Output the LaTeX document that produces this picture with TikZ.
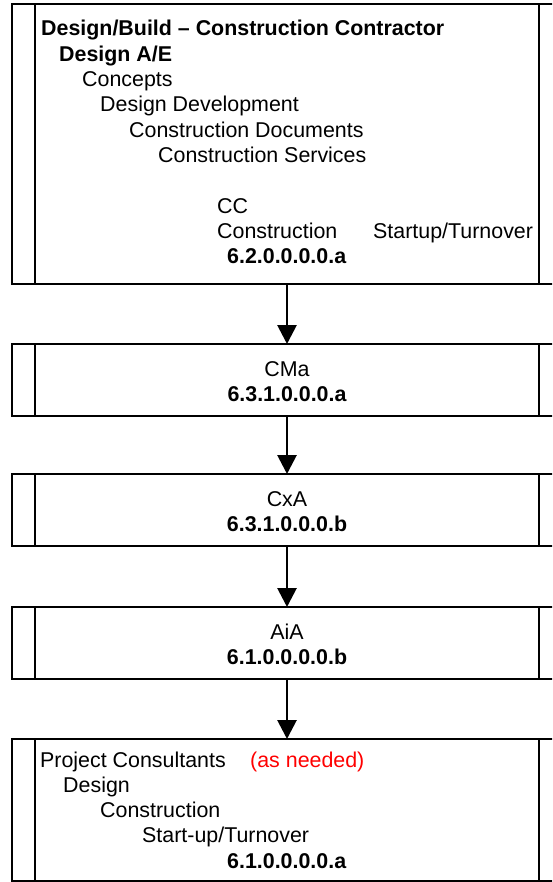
\documentclass[tikz,border=0pt]{standalone}
\usepackage{fontspec}
\setmainfont{Liberation Sans}
\usetikzlibrary{arrows.meta}
\definecolor{notered}{RGB}{255,0,0}
\tikzset{
  procbox/.style={draw=black, line width=2.8pt, minimum width=550pt, inner sep=0pt, outer sep=0pt, fill=white},
  txt/.style={anchor=base west, inner sep=0pt, font=\fontsize{21.4}{25.3}\selectfont},
  btxt/.style={txt, font=\fontsize{21.4}{25.3}\selectfont\bfseries},
  ctxt/.style={anchor=base, inner sep=0pt, font=\fontsize{21.4}{25.3}\selectfont},
  bctxt/.style={ctxt, font=\fontsize{21.4}{25.3}\selectfont\bfseries},
  flow/.style={line width=2.8pt, -{Triangle[width=19pt,length=19pt]}},
  bar/.style={line width=2.8pt}
}
\begin{document}
\begin{tikzpicture}[x=1pt,y=-1pt]
\path[use as bounding box] (0,0) rectangle (552,882);
\clip (0,0) rectangle (552,882);
% boxes
\node[procbox, minimum height=280pt] (b1) at (287,144) {};
\node[procbox, minimum height=72pt] (b2) at (287,380) {};
\node[procbox, minimum height=72pt] (b3) at (287,510) {};
\node[procbox, minimum height=72pt] (b4) at (287,643) {};
\node[procbox, minimum height=142pt] (b5) at (287,810) {};
\foreach \b in {b1,b2,b3,b4,b5}{
  \draw[bar] ([xshift=23pt]\b.north west) -- ([xshift=23pt]\b.south west);
  \draw[bar] ([xshift=-23pt]\b.north east) -- ([xshift=-23pt]\b.south east);
}
% connectors
\draw[flow] (b1.south) -- (b2.north);
\draw[flow] (b2.south) -- (b3.north);
\draw[flow] (b3.south) -- (b4.north);
\draw[flow] (b4.south) -- (b5.north);
% box 1 text
\node[btxt] (t1) at (41,36) {Design/Build – Construction Contractor};
\node[btxt] (t2) at (59,61.3) {Design A/E};
\node[txt] (t3) at (82,86.6) {Concepts};
\node[txt] (t4) at (100,111.9) {Design Development};
\node[txt] (t5) at (129,137.2) {Construction Documents};
\node[txt] (t6) at (158,162.5) {Construction Services};
\node[txt] (t7) at (217,213.1) {CC};
\node[txt] (t8) at (217,238.4) {Construction};
\node[txt] (t9) at (373,238.4) {Startup/Turnover};
\node[btxt] (t10) at (227,263.7) {6.2.0.0.0.0.a};
% box 2-4 text
\node[ctxt] (c2) at (287,376) {CMa};
\node[bctxt] (d2) at (287,401) {6.3.1.0.0.0.a};
\node[ctxt] (c3) at (287,506) {CxA};
\node[bctxt] (d3) at (287,531) {6.3.1.0.0.0.b};
\node[ctxt] (c4) at (287,639) {AiA};
\node[bctxt] (d4) at (287,664) {6.1.0.0.0.0.b};
% box 5 text
\node[txt] (p1) at (40,767) {Project Consultants};
\node[txt, text=notered] (p2) at (250,767) {(as needed)};
\node[txt] (p3) at (63,792.3) {Design};
\node[txt] (p4) at (100,817.6) {Construction};
\node[txt] (p5) at (142,842.9) {Start-up/Turnover};
\node[btxt] (p6) at (227,868.2) {6.1.0.0.0.0.a};
\end{tikzpicture}
\end{document}
